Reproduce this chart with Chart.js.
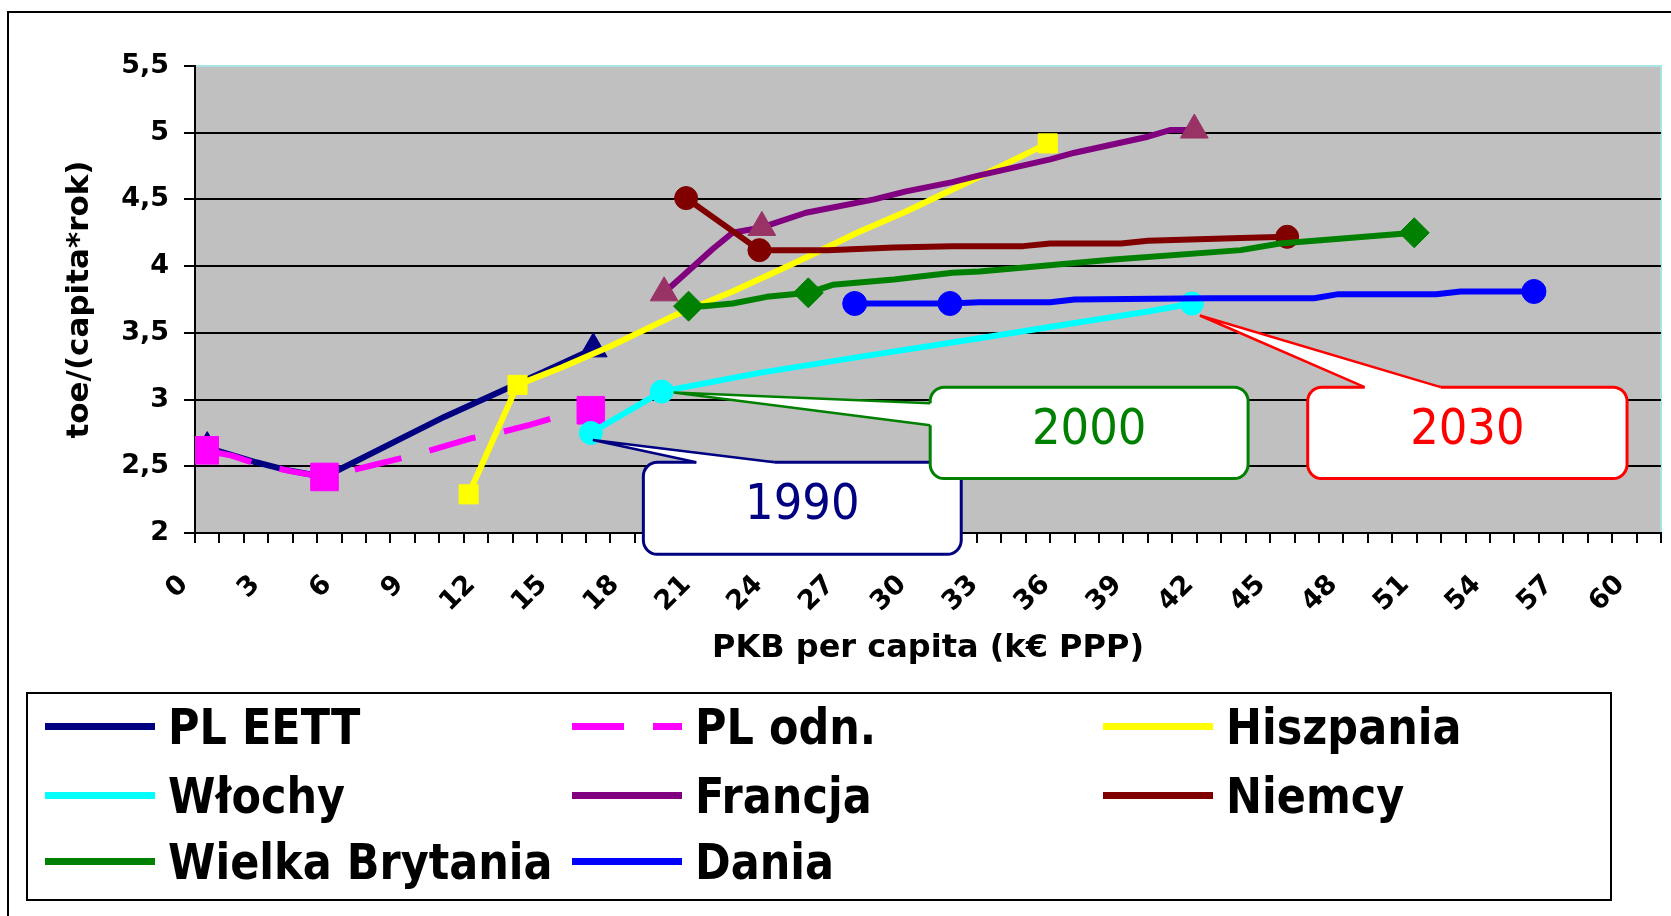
<!DOCTYPE html>
<html>
<head>
<meta charset="utf-8">
<script src="https://cdn.jsdelivr.net/npm/chart.js@4.4.1/dist/chart.umd.min.js"></script>
<style>
  html, body { margin: 0; padding: 0; background: #fff; overflow: hidden; }
  #wrap { position: relative; width: 1671px; height: 916px; }
  #chart { position: absolute; left: 0; top: 0; }
  #frame { position: absolute; left: 7px; top: 11px; width: 1700px; height: 1000px; border: 2px solid #000; }
  #legend { position: absolute; left: 26px; top: 692px; width: 1586px; height: 209px; border: 2px solid #000; box-sizing: border-box; }
  .item { position: absolute; height: 60px; width: 480px; }
  .swatch { position: absolute; left: 0; top: 26px; width: 110px; height: 7px; }
  .lbl { position: absolute; left: 123px; top: 0; font: bold 43px "DejaVu Sans", sans-serif; line-height: 60px;
         white-space: nowrap; transform: scaleY(1.15); transform-origin: 0 50%; }
</style>
</head>
<body>
<div id="wrap">
  <canvas id="chart" width="1671" height="916"></canvas>
  <div id="frame"></div>
  <div id="legend"></div>
</div>
<script>
// values: x = PKB per capita (k€ PPP), y = toe/(capita*rok)
const plEettX = [0.5, 2.5, 3.8, 5.3, 10.2, 14.3, 16.3]
const plEettY = [2.64, 2.53, 2.47, 2.42, 2.87, 3.21, 3.38]
const plEettMarks = [0, 6]

const plOdnX = [0.4, 1.5, 2.5, 4.0, 5.3, 7.1, 9.1, 11.3, 12.2, 13.7, 15.2, 16.2]
const plOdnY = [2.62, 2.58, 2.52, 2.46, 2.42, 2.5, 2.59, 2.71, 2.74, 2.81, 2.89, 2.92]
const plOdnMarks = [0, 4, 11]

const hiszpaniaX = [11.2, 13.2, 15.0, 17.0, 19.5, 22.0, 24.5, 27.1, 29.1, 32.1, 34.9]
const hiszpaniaY = [2.29, 3.11, 3.24, 3.40, 3.62, 3.81, 4.02, 4.25, 4.41, 4.67, 4.92]
const hiszpaniaMarks = [0, 1, 10]

const wlochyX = [16.2, 19.1, 23.1, 27.2, 32.1, 36.2, 39.0, 40.8]
const wlochyY = [2.75, 3.06, 3.20, 3.32, 3.46, 3.58, 3.66, 3.72]
const wlochyMarks = [0, 1, 7]

const francjaX = [19.2, 21.2, 22.0, 23.2, 25.0, 27.8, 29.1, 31.0, 32.1, 35.0, 36.0, 39.0, 39.9, 40.9]
const francjaY = [3.80, 4.13, 4.25, 4.29, 4.40, 4.50, 4.56, 4.63, 4.68, 4.80, 4.85, 4.97, 5.02, 5.02]
const francjaMarks = [0, 3, 13]

const niemcyX = [20.1, 23.1, 25.9, 28.6, 31.0, 33.9, 35.0, 37.9, 39.0, 42.8, 44.7]
const niemcyY = [4.51, 4.12, 4.12, 4.14, 4.15, 4.15, 4.17, 4.17, 4.19, 4.21, 4.22]
const niemcyMarks = [0, 1, 10]

const wbX = [20.2, 20.8, 22.0, 23.4, 25.1, 26.1, 28.6, 31.0, 32.1, 37.6, 42.8, 44.4, 49.9]
const wbY = [3.70, 3.70, 3.72, 3.77, 3.80, 3.86, 3.90, 3.95, 3.96, 4.05, 4.12, 4.17, 4.25]
const wbMarks = [0, 4, 12]

const daniaX = [27.0, 30.9, 32.1, 35.0, 36.0, 41.4, 45.8, 46.8, 50.8, 51.8, 54.8]
const daniaY = [3.72, 3.72, 3.73, 3.73, 3.75, 3.76, 3.76, 3.79, 3.79, 3.81, 3.81]
const daniaMarks = [0, 1, 10]

const callYears = ['1990', '2000', '2030']

const series = [
  { label: 'PL EETT', xs: plEettX, ys: plEettY, marks: plEettMarks, color: '#000080', marker: '#000080', style: 'triangle', r: 16 },
  { label: 'PL odn.', xs: plOdnX, ys: plOdnY, marks: plOdnMarks, color: '#FF00FF', marker: '#FF00FF', style: 'rect', r: 19.5, dash: [48, 29] },
  { label: 'Hiszpania', xs: hiszpaniaX, ys: hiszpaniaY, marks: hiszpaniaMarks, color: '#FFFF00', marker: '#FFFF00', style: 'rect', r: 13.5 },
  { label: 'Włochy', xs: wlochyX, ys: wlochyY, marks: wlochyMarks, color: '#00FFFF', marker: '#00FFFF', style: 'circle', r: 11.5 },
  { label: 'Francja', xs: francjaX, ys: francjaY, marks: francjaMarks, color: '#800080', marker: '#993366', style: 'triangle', r: 16 },
  { label: 'Niemcy', xs: niemcyX, ys: niemcyY, marks: niemcyMarks, color: '#800000', marker: '#800000', style: 'circle', r: 11.5 },
  { label: 'Wielka Brytania', xs: wbX, ys: wbY, marks: wbMarks, color: '#008000', marker: '#008000', style: 'rectRot', r: 15 },
  { label: 'Dania', xs: daniaX, ys: daniaY, marks: daniaMarks, color: '#0000FF', marker: '#0000FF', style: 'circle', r: 12 },
]

const datasets = series.map((s, i) => {
  const radius = s.xs.map((_, k) => s.marks.includes(k) ? s.r : 0)
  return {
    label: s.label,
    data: s.xs.map((x, k) => ({ x: x, y: s.ys[k] })),
    xAxisID: 'x',
    yAxisID: 'y',
    borderColor: s.color,
    backgroundColor: s.marker,
    borderWidth: 6,
    borderDash: s.dash || [],
    borderJoinStyle: 'round',
    borderCapStyle: s.dash ? 'butt' : 'round',
    tension: 0,
    pointStyle: s.style,
    pointRadius: radius,
    pointHoverRadius: radius,
    pointBackgroundColor: s.marker,
    pointBorderColor: s.marker,
    pointBorderWidth: 1,
    order: series.length - i,
  }
})

// grey plot area with its thin light border
const plotBg = {
  id: 'plotBg',
  beforeDraw(chart) {
    const { ctx, chartArea: a } = chart
    ctx.save()
    ctx.fillStyle = '#C0C0C0'
    ctx.fillRect(a.left, a.top, a.width, a.height)
    ctx.strokeStyle = '#A8E4E4'
    ctx.lineWidth = 2
    ctx.beginPath()
    ctx.moveTo(a.left, a.top)
    ctx.lineTo(a.right, a.top)
    ctx.lineTo(a.right, a.bottom)
    ctx.stroke()
    ctx.restore()
  }
}

// year callouts pointing at the Włochy markers
const callouts = [
  { point: 0, color: '#000080', box: [18.35, 2.53, 31.36, 1.84], side: 'top', base: [53, 131], tip: [2, 7] },
  { point: 1, color: '#008000', box: [30.09, 3.093, 43.1, 2.408], side: 'left', base: [16, 38], tip: [12, 1] },
  { point: 7, color: '#FF0000', box: [45.54, 3.093, 58.61, 2.408], side: 'top', base: [57, 133], tip: [8, 12] },
]

const calloutPlugin = {
  id: 'callouts',
  afterDraw(chart) {
    const { ctx, scales } = chart
    const meta = chart.getDatasetMeta(3)
    callouts.forEach((c, i) => {
      const left = scales.x.getPixelForValue(c.box[0])
      const top = scales.y.getPixelForValue(c.box[1])
      const right = scales.x.getPixelForValue(c.box[2])
      const bottom = scales.y.getPixelForValue(c.box[3])
      const pt = meta.data[c.point]
      const tx = pt.x + c.tip[0], ty = pt.y + c.tip[1]
      let b1, b2, i1, i2
      if (c.side === 'top') {
        b1 = [left + c.base[0], top]; b2 = [left + c.base[1], top]
        i1 = [b1[0], top + 6]; i2 = [b2[0], top + 6]
      } else {
        b1 = [left, top + c.base[0]]; b2 = [left, top + c.base[1]]
        i1 = [left + 6, b1[1]]; i2 = [left + 6, b2[1]]
      }
      ctx.save()
      ctx.fillStyle = '#fff'
      ctx.strokeStyle = c.color
      ctx.lineWidth = 3
      ctx.beginPath()
      ctx.roundRect(left, top, right - left, bottom - top, 14)
      ctx.fill()
      ctx.stroke()
      ctx.beginPath()
      ctx.moveTo(i1[0], i1[1])
      ctx.lineTo(b1[0], b1[1])
      ctx.lineTo(tx, ty)
      ctx.lineTo(b2[0], b2[1])
      ctx.lineTo(i2[0], i2[1])
      ctx.closePath()
      ctx.fill()
      ctx.lineWidth = 2.5
      ctx.beginPath()
      ctx.moveTo(b1[0], b1[1])
      ctx.lineTo(tx, ty)
      ctx.lineTo(b2[0], b2[1])
      ctx.stroke()
      ctx.fillStyle = c.color
      ctx.font = '50px "DejaVu Sans Condensed", "Liberation Sans", sans-serif'
      ctx.textAlign = 'center'
      ctx.textBaseline = 'middle'
      ctx.fillText(callYears[i], (left + right) / 2, (top + bottom) / 2 - 2)
      ctx.restore()
    })
  }
}

Chart.defaults.font.family = '"DejaVu Sans", sans-serif'
Chart.defaults.color = '#000'

const chart = new Chart(document.getElementById('chart'), {
  type: 'line',
  data: { datasets: datasets },
  plugins: [plotBg, calloutPlugin],
  options: {
    responsive: false,
    animation: false,
    events: [],
    layout: { autoPadding: false, padding: { left: 10, top: 66, right: 10, bottom: 243 } },
    plugins: { legend: { display: false }, tooltip: { enabled: false } },
    scales: {
      x: {
        type: 'linear',
        min: 0,
        max: 60,
        ticks: { display: false, stepSize: 1, autoSkip: false },
        grid: { drawOnChartArea: false, drawTicks: true, tickLength: 10, color: '#000', lineWidth: 2 },
        border: { display: true, color: '#000', width: 2 },
        afterFit(scale) { scale.height = 10; scale.paddingLeft = 0; scale.paddingRight = 0 },
      },
      x2: {
        type: 'linear',
        axis: 'x',
        position: 'bottom',
        weight: 1,
        min: 0,
        max: 61.23,
        grid: { display: false },
        border: { display: false },
        ticks: {
          stepSize: 3,
          includeBounds: false,
          autoSkip: false,
          minRotation: 45,
          maxRotation: 45,
          labelOffset: -11,
          padding: 18,
          font: { size: 27, weight: 'bold' },
          callback: v => String(v),
        },
        title: {
          display: true,
          text: 'PKB per capita (k€ PPP)',
          font: { size: 32, weight: 'bold' },
          padding: { top: 0, bottom: 5 },
        },
        afterFit(scale) { scale.height = 130; scale.paddingLeft = 0; scale.paddingRight = 0 },
      },
      y: {
        type: 'linear',
        min: 2,
        max: 5.5,
        ticks: {
          stepSize: 0.5,
          padding: 15,
          font: { size: 27, weight: 'bold' },
          callback: v => String(v).replace('.', ','),
        },
        grid: {
          color: ctx => (ctx.tick && ctx.tick.value === 5.5) ? 'rgba(0,0,0,0)' : '#000',
          tickColor: '#000',
          lineWidth: 2,
          tickLength: 11,
        },
        border: { display: true, color: '#000', width: 2 },
        title: {
          display: true,
          text: 'toe/(capita*rok)',
          font: { size: 31, weight: 'bold' },
          padding: { top: 51, bottom: 0 },
        },
        afterFit(scale) { scale.width = 185 },
      },
    },
  },
})

// legend laid out as the 3-column grid of the original
const legendCols = [45, 572, 1103]
const legendRows = [727, 796, 862]
const legend = document.getElementById('legend')
series.forEach((s, i) => {
  const item = document.createElement('div')
  item.className = 'item'
  item.style.left = (legendCols[i % 3] - 28) + 'px'
  item.style.top = (legendRows[Math.floor(i / 3)] - 694 - 30) + 'px'
  const sw = document.createElement('div')
  sw.className = 'swatch'
  sw.style.background = s.dash
    ? 'linear-gradient(to right, ' + s.color + ' 0 52px, transparent 52px 81px, ' + s.color + ' 81px 110px)'
    : s.color
  const lbl = document.createElement('div')
  lbl.className = 'lbl'
  lbl.textContent = s.label
  item.appendChild(sw)
  item.appendChild(lbl)
  legend.appendChild(item)
})
</script>
</body>
</html>
